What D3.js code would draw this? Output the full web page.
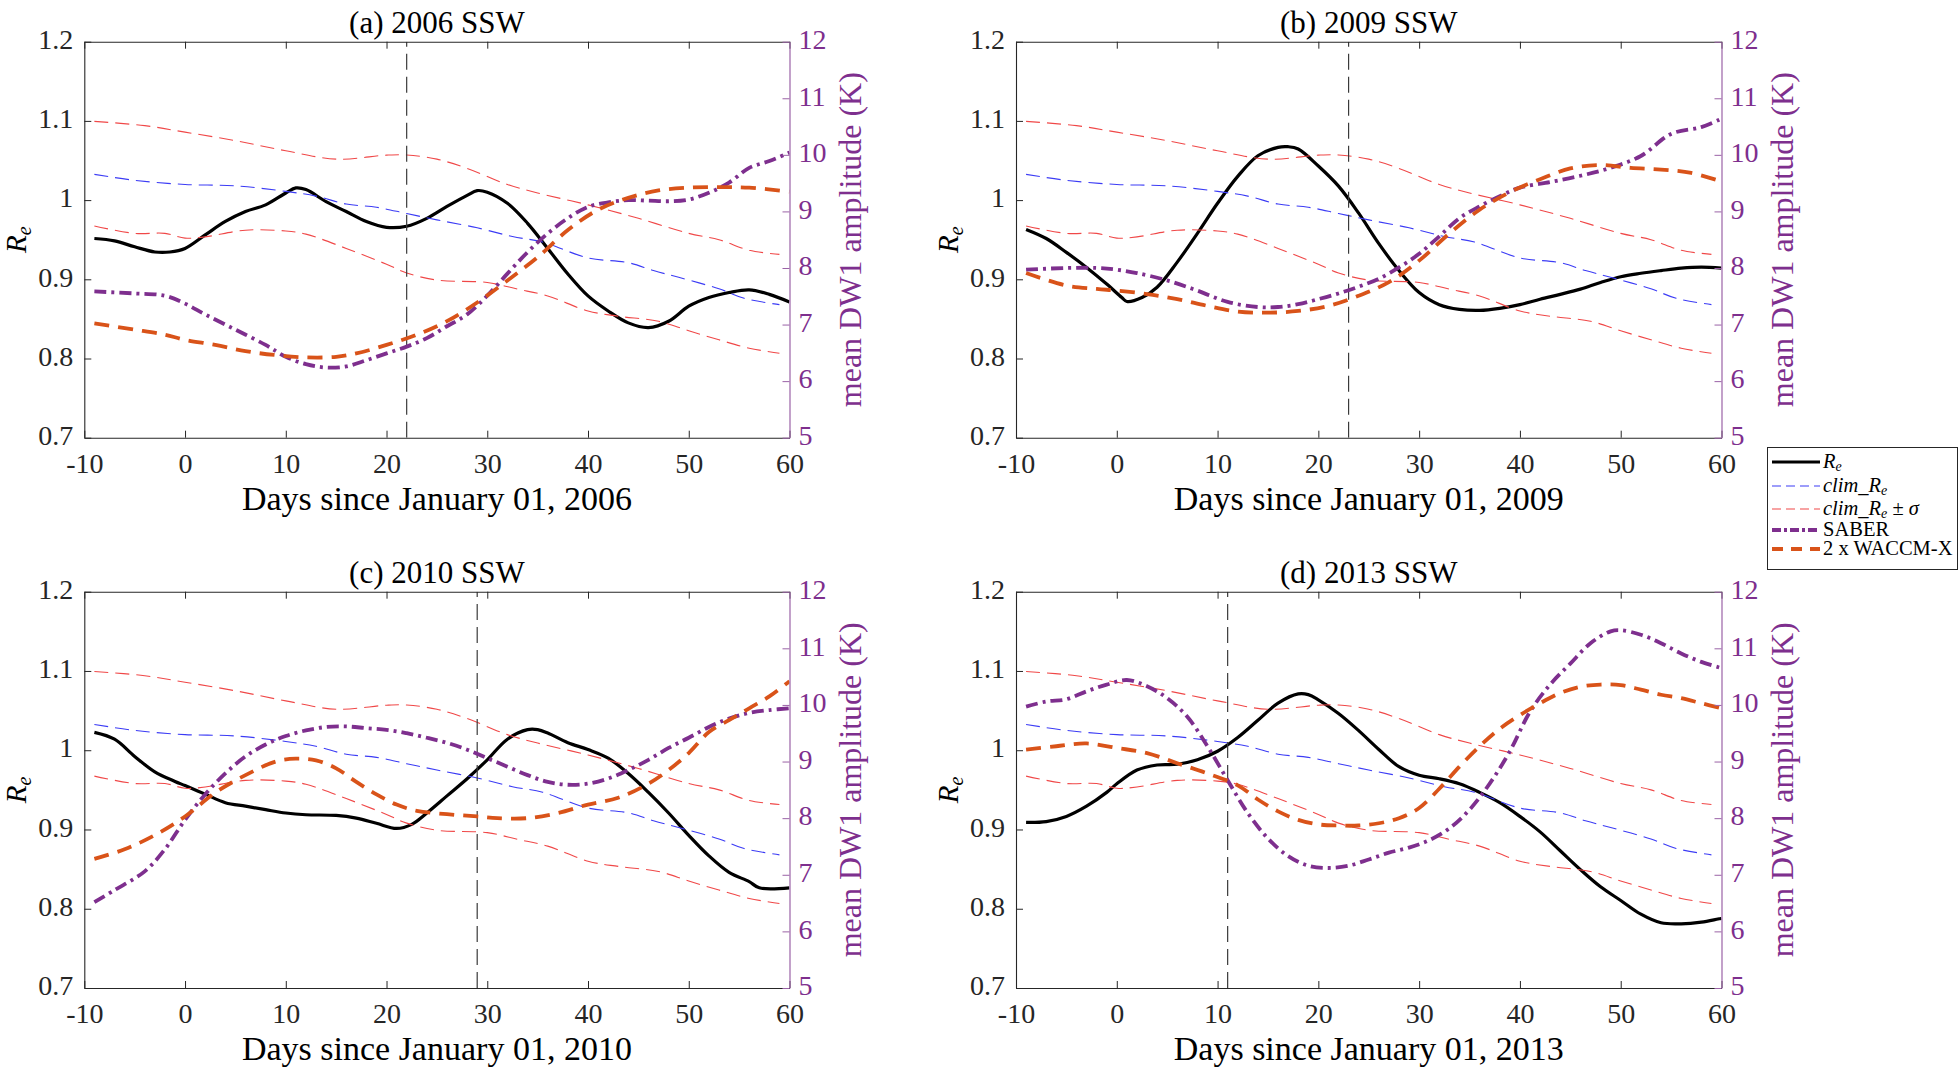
<!DOCTYPE html>
<html><head><meta charset="utf-8">
<script src="https://cdn.jsdelivr.net/npm/d3@7"></script>
<style>
body{margin:0;background:#fff}
svg{display:block}
svg text{font-family:"Liberation Serif","Times New Roman",serif !important}
</style>
</head><body>
<svg id="c" width="1959" height="1068"></svg>
<script>
// ---------------- DATA ----------------
const xTicks = [-10, 0, 10, 20, 30, 40, 50, 60];
const xTickLabels = ["-10", "0", "10", "20", "30", "40", "50", "60"];
const leftTicks = [0.7, 0.8, 0.9, 1.0, 1.1, 1.2];
const leftTickLabels = ["0.7", "0.8", "0.9", "1", "1.1", "1.2"];
const rightTicks = [5, 6, 7, 8, 9, 10, 11, 12];
const rightTickLabels = ["5", "6", "7", "8", "9", "10", "11", "12"];
const titles = ["(a) 2006 SSW", "(b) 2009 SSW", "(c) 2010 SSW", "(d) 2013 SSW"];
const xLabels = ["Days since January 01, 2006", "Days since January 01, 2009",
                 "Days since January 01, 2010", "Days since January 01, 2013"];
const rightLabel = "mean DW1 amplitude (K)";
const sswDays = [22, 23, 29, 11];

// climatology (same in all panels), [day, Re]
const climRe = [[-9,1.0325],[-5,1.025],[0,1.0197],[5,1.018],[10,1.011],[13,1.005],[16,0.995],[19,0.991],[22,0.983],[25,0.975],[29,0.965],[32.5,0.954],[35.5,0.947],[40,0.927],[44,0.921],[46.5,0.911],[49,0.9025],[53,0.888],[55.5,0.876],[59,0.868]];
const climUpper = [[-9,1.0994],[-4,1.094],[0,1.0858],[5,1.075],[10,1.0623],[15,1.0517],[20,1.0568],[22,1.057],[25,1.0517],[28,1.04],[32,1.0197],[35,1.009],[40,0.994],[45,0.977],[50,0.958],[53,0.950],[56,0.9366],[59,0.9315]];
const climLower = [[-9,0.9673],[-5,0.958],[-2,0.958],[0,0.952],[2,0.9536],[6,0.962],[10,0.961],[12,0.957],[16,0.939],[20,0.919],[22,0.908],[25,0.899],[30,0.896],[33,0.8876],[36,0.879],[40,0.860],[43,0.8534],[47,0.847],[50,0.835],[53,0.8236],[56,0.813],[59,0.8066]];

// (a) 2006
const reA = [[-9,0.9515],[-7,0.9485],[-5,0.941],[-3,0.9345],[-1.5,0.9345],[0,0.939],[2,0.956],[4,0.973],[6,0.9856],[8,0.994],[10,1.009],[11,1.0154],[12,1.0133],[14,0.998],[16,0.9856],[18,0.973],[20,0.9656],[22,0.967],[24,0.977],[26,0.992],[28,1.006],[29,1.012],[30,1.010],[32,0.996],[34,0.9707],[36,0.939],[38,0.9067],[40,0.879],[42,0.860],[44,0.845],[46,0.839],[48,0.847],[50,0.866],[52,0.877],[54,0.8833],[56,0.8867],[58,0.881],[60,0.8714]];
const saberA = [[-9,7.585],[-5,7.55],[-2,7.51],[0,7.37],[2,7.18],[5,6.91],[8,6.64],[10,6.43],[12,6.30],[14,6.24],[16,6.26],[18,6.37],[20,6.49],[22,6.61],[24,6.76],[26,6.97],[28,7.18],[30,7.51],[32,7.90],[34,8.28],[36,8.61],[38,8.88],[40,9.08],[42,9.16],[44,9.20],[46,9.19],[48,9.18],[50,9.21],[52,9.33],[54,9.51],[56,9.77],[58,9.89],[60,10.04]];
const waccmA = [[-9,7.02],[-5,6.91],[-2,6.82],[0,6.73],[3,6.64],[6,6.53],[9,6.46],[12,6.42],[15,6.43],[17,6.49],[20,6.64],[23,6.82],[26,7.06],[29,7.39],[32,7.78],[35,8.19],[38,8.67],[41,9.03],[44,9.24],[47,9.37],[50,9.42],[53,9.43],[56,9.42],[60,9.35]];

// (b) 2009
const reB = [[-9,0.963],[-7,0.9515],[-5,0.934],[-3,0.915],[-1,0.894],[0.5,0.877],[1,0.872],[2.5,0.877],[4,0.890],[6,0.9217],[8,0.958],[10,0.996],[12,1.030],[14,1.056],[16,1.0666],[17,1.0674],[18,1.0645],[20,1.043],[22,1.0176],[24,0.9835],[26,0.945],[28,0.911],[30,0.8833],[32,0.868],[34,0.862],[36,0.8607],[38,0.8633],[40,0.868],[42,0.8748],[44,0.881],[46,0.8876],[48,0.896],[50,0.9033],[52,0.9076],[54,0.911],[56,0.914],[58,0.9153],[60,0.914]];
const saberB = [[-9,7.97],[-5,8.0],[-2,8.0],[0,7.97],[2,7.91],[5,7.78],[8,7.60],[11,7.40],[14,7.31],[16,7.31],[18,7.36],[20,7.45],[22,7.55],[24,7.67],[26,7.81],[28,8.01],[30,8.25],[32,8.56],[34,8.88],[36,9.09],[38,9.27],[40,9.42],[43,9.52],[46,9.63],[49,9.77],[52,9.98],[55,10.37],[58,10.49],[60,10.64]];
const waccmB = [[-9,7.91],[-5,7.69],[-2,7.63],[0,7.60],[3,7.54],[6,7.45],[9,7.33],[12,7.23],[15,7.21],[18,7.24],[21,7.33],[24,7.51],[27,7.75],[30,8.13],[33,8.61],[36,9.03],[39,9.34],[42,9.57],[45,9.76],[48,9.82],[51,9.77],[54,9.74],[57,9.68],[60,9.53]];

// (c) 2010
const reC = [[-9,1.0225],[-7,1.0139],[-5,0.9922],[-3,0.9727],[-1,0.9606],[0,0.9554],[2,0.9446],[4,0.9338],[6,0.9294],[8,0.925],[10,0.9208],[12,0.9186],[15,0.9177],[17,0.9143],[19,0.9078],[21,0.9013],[22.5,0.9065],[24,0.9208],[26,0.9424],[28,0.964],[30,0.9879],[32,1.0139],[34,1.026],[35,1.026],[36,1.0217],[38,1.0095],[40,1.0009],[42,0.99],[44,0.9706],[46,0.9468],[48,0.9208],[50,0.8926],[52,0.8667],[54,0.8459],[56,0.8342],[57,0.8264],[60,0.8264]];
const saberC = [[-9,6.515],[-7,6.73],[-4,7.06],[-2,7.45],[0,7.97],[2,8.42],[4,8.79],[6,9.09],[8,9.30],[10,9.45],[12,9.55],[14,9.61],[16,9.62],[18,9.59],[20,9.56],[22,9.50],[24,9.42],[26,9.33],[28,9.21],[30,9.06],[32,8.91],[34,8.76],[36,8.64],[38,8.59],[40,8.61],[42,8.70],[44,8.85],[46,9.03],[48,9.24],[50,9.42],[52,9.61],[54,9.76],[56,9.86],[58,9.91],[60,9.94]];
const waccmC = [[-9,7.28],[-6,7.45],[-3,7.70],[0,8.03],[3,8.45],[6,8.76],[9,9.0],[11,9.05],[13,9.02],[15,8.88],[17,8.64],[19,8.42],[21,8.24],[23,8.13],[26,8.07],[29,8.03],[31,8.0],[34,8.0],[37,8.09],[40,8.24],[43,8.36],[46,8.61],[48,8.85],[50,9.15],[52,9.52],[54,9.73],[56,9.94],[58,10.15],[60,10.42]];

// (d) 2013
const reD = [[-9,0.909],[-7,0.91],[-5,0.9165],[-3,0.9294],[-1,0.9468],[0,0.9576],[2,0.975],[4,0.9814],[6,0.9823],[8,0.988],[10,0.9987],[12,1.016],[14,1.0377],[16,1.0593],[18,1.071],[19,1.0701],[20,1.0636],[22,1.0463],[24,1.0247],[26,1.0009],[28,0.9792],[30,0.9684],[32,0.964],[34,0.9576],[36,0.9468],[38,0.9338],[40,0.9165],[42,0.897],[44,0.8732],[46,0.8494],[48,0.8277],[50,0.8104],[52,0.7931],[54,0.7823],[56,0.781],[58,0.7831],[60,0.7879]];
const saberD = [[-9,9.97],[-7,10.06],[-5,10.10],[-3,10.24],[-1,10.36],[1,10.44],[3,10.33],[5,10.12],[7,9.79],[9,9.27],[11,8.67],[13,8.09],[15,7.64],[17,7.33],[19,7.16],[21,7.12],[23,7.16],[25,7.27],[27,7.39],[29,7.48],[31,7.61],[33,7.82],[35,8.15],[37,8.61],[39,9.18],[41,9.88],[43,10.36],[45,10.73],[47,11.09],[49,11.30],[50,11.32],[52,11.24],[54,11.09],[56,10.91],[58,10.76],[60,10.65]];
const waccmD = [[-9,9.21],[-6,9.27],[-3,9.32],[0,9.24],[3,9.15],[6,8.97],[9,8.79],[12,8.58],[14,8.33],[16,8.12],[18,7.97],[20,7.89],[22,7.87],[24,7.87],[26,7.91],[28,8.0],[30,8.18],[32,8.52],[34,8.91],[36,9.27],[38,9.58],[40,9.82],[42,10.03],[44,10.21],[46,10.32],[48,10.36],[50,10.35],[52,10.27],[54,10.18],[56,10.12],[58,10.03],[60,9.94]];

const reSeries = [reA, reB, reC, reD];
const saberSeries = [saberA, saberB, saberC, saberD];
const waccmSeries = [waccmA, waccmB, waccmC, waccmD];

// ---------------- STYLE / LAYOUT ----------------
const C = {axis:"#262626", purple:"#7E2F8E", purpleAxis:"#9a62a6", orange:"#D95319",
           blue:"#3c3cf5", red:"#f04848", vline:"#3a3a3a"};
const panels = [
  {x0:84.3, x1:789.5, y0:41.7, y1:437.7},
  {x0:1016, x1:1721.5, y0:41.7, y1:437.7},
  {x0:84.3, x1:789.5, y0:591.7, y1:988},
  {x0:1016, x1:1721.5, y0:591.7, y1:988}
];
const TICK_FS = 28, TITLE_FS = 31, XLABEL_FS = 34, RLABEL_FS = 32;

const svg = d3.select("#c");

panels.forEach((p, i) => {
  const g = svg.append("g");
  const x = d3.scaleLinear().domain([-10, 60]).range([p.x0, p.x1]);
  const yL = d3.scaleLinear().domain([0.7, 1.2]).range([p.y1, p.y0]);
  const yR = d3.scaleLinear().domain([5, 12]).range([p.y1, p.y0]);
  const curve = d3.curveCatmullRom.alpha(0.5);
  const lineL = d3.line().x(d => x(d[0])).y(d => yL(d[1])).curve(curve);
  const lineR = d3.line().x(d => x(d[0])).y(d => yR(d[1])).curve(curve);

  const clipId = "clip" + i;
  svg.append("clipPath").attr("id", clipId).append("rect")
    .attr("x", p.x0).attr("y", p.y0).attr("width", p.x1 - p.x0).attr("height", p.y1 - p.y0);
  const plot = g.append("g").attr("clip-path", `url(#${clipId})`);

  // left-axis content
  plot.append("path").attr("d", lineL(reSeries[i])).attr("fill", "none")
    .attr("stroke", "#000").attr("stroke-width", 3.2);
  plot.append("path").attr("d", lineL(climRe)).attr("fill", "none")
    .attr("stroke", C.blue).attr("stroke-width", 1.1).attr("stroke-dasharray", "14,7");
  [climUpper, climLower].forEach(s => plot.append("path").attr("d", lineL(s)).attr("fill", "none")
    .attr("stroke", C.red).attr("stroke-width", 1.1).attr("stroke-dasharray", "14,7"));
  plot.append("line").attr("x1", x(sswDays[i])).attr("x2", x(sswDays[i]))
    .attr("y1", yL(0.7)).attr("y2", yL(1.2))
    .attr("stroke", C.vline).attr("stroke-width", 1.2).attr("stroke-dasharray", "16,7");
  // right-axis content
  plot.append("path").attr("d", lineR(saberSeries[i])).attr("fill", "none")
    .attr("stroke", C.purple).attr("stroke-width", 3.8).attr("stroke-dasharray", "12,5,3,5");
  plot.append("path").attr("d", lineR(waccmSeries[i])).attr("fill", "none")
    .attr("stroke", C.orange).attr("stroke-width", 3.8).attr("stroke-dasharray", "15,9");

  // axes
  const ax = g.append("g");
  const bottom = ax.append("g").attr("transform", `translate(0,${p.y1})`)
    .call(d3.axisBottom(x).tickValues(xTicks).tickSizeInner(-7).tickSizeOuter(0).tickPadding(15)
      .tickFormat((d, k) => xTickLabels[k]));
  const top = ax.append("g").attr("transform", `translate(0,${p.y0})`)
    .call(d3.axisTop(x).tickValues(xTicks).tickSizeInner(-7).tickSizeOuter(0).tickFormat(""));
  const left = ax.append("g").attr("transform", `translate(${p.x0},0)`)
    .call(d3.axisLeft(yL).tickValues(leftTicks).tickSizeInner(-7).tickSizeOuter(0).tickPadding(11)
      .tickFormat((d, k) => leftTickLabels[k]));
  const right = ax.append("g").attr("transform", `translate(${p.x1},0)`)
    .call(d3.axisRight(yR).tickValues(rightTicks).tickSizeInner(-7).tickSizeOuter(0).tickPadding(9)
      .tickFormat((d, k) => rightTickLabels[k]));
  [bottom, top, left, right].forEach(a => a.attr("font-family", null).attr("font-size", TICK_FS));
  [bottom, top, left].forEach(a => {
    a.select(".domain").attr("stroke", C.axis).attr("stroke-width", 1.1);
    a.selectAll(".tick line").attr("stroke", C.axis).attr("stroke-width", 1);
    a.selectAll(".tick text").attr("fill", C.axis);
  });
  left.selectAll(".tick text").attr("dy", "0.24em");
  right.select(".domain").attr("stroke", C.purpleAxis).attr("stroke-width", 1.2);
  right.selectAll(".tick line").attr("stroke", C.purpleAxis).attr("stroke-width", 1);
  right.selectAll(".tick text").attr("fill", C.purple).attr("dy", "0.24em");

  // title
  g.append("text").attr("x", (p.x0 + p.x1) / 2).attr("y", p.y0 - 9)
    .attr("text-anchor", "middle").attr("font-size", TITLE_FS).attr("fill", "#000").text(titles[i]);
  // x label
  g.append("text").attr("x", (p.x0 + p.x1) / 2).attr("y", p.y1 + 72)
    .attr("text-anchor", "middle").attr("font-size", XLABEL_FS).attr("fill", "#000").text(xLabels[i]);
  // left label R_e
  const yl = g.append("text")
    .attr("transform", `translate(${p.x0 - 58},${(p.y0 + p.y1) / 2}) rotate(-90)`)
    .attr("text-anchor", "middle").attr("font-size", 29).attr("fill", "#000");
  yl.append("tspan").attr("font-style", "italic").text("R");
  yl.append("tspan").attr("font-style", "italic").attr("font-size", 20).attr("dy", 5).text("e");
  // right label
  g.append("text")
    .attr("transform", `translate(${p.x1 + 71},${(p.y0 + p.y1) / 2}) rotate(-90)`)
    .attr("text-anchor", "middle").attr("font-size", RLABEL_FS).attr("fill", C.purple).text(rightLabel);
});

// ---------------- LEGEND ----------------
const legendItems = [
  {key:"re", color:"#000", w:3.2, dash:null},
  {key:"clim", color:C.blue, w:1.1, dash:"9,5"},
  {key:"sigma", color:C.red, w:1.1, dash:"9,5"},
  {key:"saber", color:C.purple, w:3.8, dash:"9,3,3,3"},
  {key:"waccm", color:C.orange, w:3.8, dash:"11,8"}
];
const LG = {x:1767, y:447, w:190, h:122};
const lg = svg.append("g");
lg.append("rect").attr("x", LG.x + 0.5).attr("y", LG.y + 0.5).attr("width", LG.w).attr("height", LG.h)
  .attr("fill", "#fff").attr("stroke", "#262626").attr("stroke-width", 1);
const rowY = [462, 486, 509, 530, 549];
legendItems.forEach((it, k) => {
  const yy = rowY[k];
  const ln = lg.append("line").attr("x1", LG.x + 5).attr("x2", LG.x + 53).attr("y1", yy).attr("y2", yy)
    .attr("stroke", it.color).attr("stroke-width", it.w);
  if (it.dash) ln.attr("stroke-dasharray", it.dash);
  const t = lg.append("text").attr("x", LG.x + 56).attr("y", yy + 6).attr("font-size", 20.5).attr("fill", "#000");
  if (it.key === "re") {
    t.append("tspan").attr("font-style", "italic").text("R");
    t.append("tspan").attr("font-style", "italic").attr("font-size", 14).attr("dy", 3).text("e");
  } else if (it.key === "clim" || it.key === "sigma") {
    t.append("tspan").attr("font-style", "italic").text("clim");
    t.append("tspan").text("_");
    t.append("tspan").attr("font-style", "italic").text("R");
    t.append("tspan").attr("font-style", "italic").attr("font-size", 14).attr("dy", 3).text("e");
    if (it.key === "sigma") {
      t.append("tspan").attr("dy", -3).text(" ± ");
      t.append("tspan").attr("font-style", "italic").text("σ");
    }
  } else if (it.key === "saber") {
    t.text("SABER");
  } else {
    t.text("2 x WACCM-X");
  }
});
</script>
</body></html>
